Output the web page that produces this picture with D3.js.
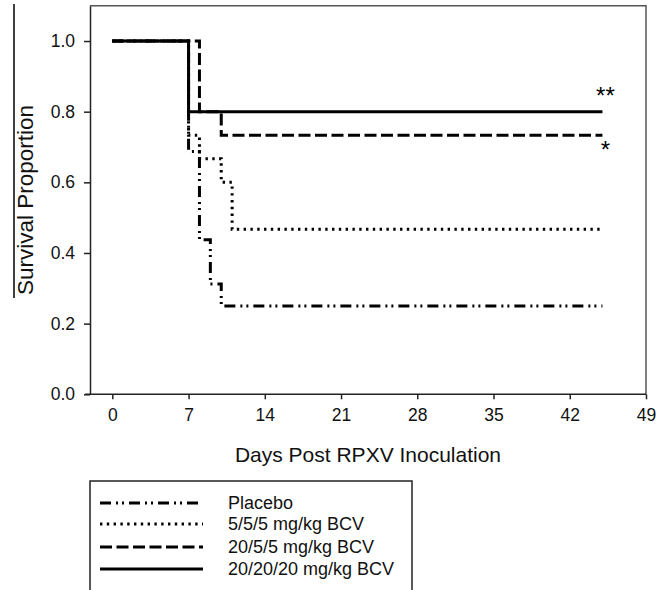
<!DOCTYPE html>
<html>
<head>
<meta charset="utf-8">
<script src="https://cdn.jsdelivr.net/npm/d3@7"></script>
<style>
  body { margin: 0; background: #fff; }
  svg { display: block; font-family: "Liberation Sans", Arial, sans-serif; }
</style>
</head>
<body>
<svg id="chart" width="668" height="590"></svg>
<script>
// survival data, one pair of arrays per group (day where the step starts, proportion)
const groupNames = ["Placebo", "5/5/5 mg/kg BCV", "20/5/5 mg/kg BCV", "20/20/20 mg/kg BCV"];
const placeboDays = [0, 7, 8, 9, 10, 45];
const placeboSurv = [1.0, 0.6875, 0.4375, 0.3125, 0.25, 0.25];
const low5Days = [0, 7, 8, 10, 11, 45];
const low5Surv = [1.0, 0.733, 0.667, 0.6, 0.467, 0.467];
const mid20Days = [0, 8, 10, 45];
const mid20Surv = [1.0, 0.8, 0.733, 0.733];
const high20Days = [0, 7, 45];
const high20Surv = [1.0, 0.8, 0.8];
const xTicks = [0, 7, 14, 21, 28, 35, 42, 49];
const yTicks = [0, 0.2, 0.4, 0.6, 0.8, 1.0];

const svg = d3.select("#chart");

// plot area
const plotL = 90, plotR = 646, plotT = 5.7, plotB = 394.3;

const x = d3.scaleLinear().domain([-2.05, 49]).range([plotL, plotR]);
const y = d3.scaleLinear().domain([0, 1.1]).range([plotB, plotT]);

const dashes = ["11,5,2,4,2,5", "2.4,4.4", "12,4.5", null];
const series = [
  [placeboDays, placeboSurv],
  [low5Days, low5Surv],
  [mid20Days, mid20Surv],
  [high20Days, high20Surv]
].map((s, i) => ({
  name: groupNames[i],
  dash: dashes[i],
  values: s[0].map((d, j) => ({ day: d, surv: s[1][j] }))
}));

// stray rule on the far left of the original figure
svg.append("line")
  .attr("x1", 14).attr("x2", 14)
  .attr("y1", 4).attr("y2", 298)
  .attr("stroke", "#000").attr("stroke-width", 1.5);

// frame top and right
svg.append("path")
  .attr("d", `M${plotL},${plotT}H${plotR}V${plotB}`)
  .attr("fill", "none")
  .attr("stroke", "#555")
  .attr("stroke-width", 1.5);

// axes
const xAxis = svg.append("g")
  .attr("transform", `translate(0,${plotB})`)
  .call(d3.axisBottom(x).tickValues(xTicks).tickSize(5).tickSizeOuter(0).tickPadding(9));

const yAxis = svg.append("g")
  .attr("transform", `translate(${plotL},0)`)
  .call(d3.axisLeft(y).tickValues(yTicks).tickFormat(d3.format(".1f")).tickSize(6).tickSizeOuter(0).tickPadding(9));

[xAxis, yAxis].forEach(g => {
  g.selectAll("path, line").attr("stroke", "#222").attr("stroke-width", 1.5);
  g.selectAll("text").attr("font-size", 17.5).attr("fill", "#111")
    .attr("font-family", "'Liberation Sans', Arial, sans-serif");
});
// extend bottom axis a little to the left like the original
xAxis.select(".domain").attr("d", `M${plotL - 5},0H${plotR}`);

// axis titles
svg.append("text")
  .attr("x", 368).attr("y", 462)
  .attr("text-anchor", "middle")
  .attr("font-size", 21)
  .attr("fill", "#111")
  .text("Days Post RPXV Inoculation");

svg.append("text")
  .attr("transform", "translate(33,200) rotate(-90)")
  .attr("text-anchor", "middle")
  .attr("font-size", 22.5)
  .attr("fill", "#111")
  .text("Survival Proportion");

// survival curves
const line = d3.line()
  .curve(d3.curveStepAfter)
  .x(d => x(d.day))
  .y(d => y(d.surv));

svg.append("g")
  .selectAll("path")
  .data(series)
  .join("path")
    .attr("d", d => line(d.values))
    .attr("fill", "none")
    .attr("stroke", "#000")
    .attr("stroke-width", 3)
    .attr("stroke-dasharray", d => d.dash);

// significance marks
svg.append("text")
  .attr("x", x(45) + 3).attr("y", y(0.8) - 8)
  .attr("text-anchor", "middle")
  .attr("font-size", 24)
  .text("**");

svg.append("text")
  .attr("x", x(45) + 3).attr("y", y(0.733) + 23)
  .attr("text-anchor", "middle")
  .attr("font-size", 24)
  .text("*");

// legend
const legend = svg.append("g");
legend.append("rect")
  .attr("x", 90).attr("y", 481)
  .attr("width", 322).attr("height", 140)
  .attr("fill", "none")
  .attr("stroke", "#222")
  .attr("stroke-width", 1.5);

const rowY = [503, 524, 547, 569];
const item = legend.selectAll(".item")
  .data(series)
  .join("g")
    .attr("class", "item")
    .attr("transform", (d, i) => `translate(0,${rowY[i]})`);

item.append("line")
  .attr("x1", 100).attr("x2", 203)
  .attr("stroke", "#000")
  .attr("stroke-width", 3)
  .attr("stroke-dasharray", d => d.dash);

item.append("text")
  .attr("x", 228)
  .attr("dy", "0.35em")
  .attr("font-size", 18)
  .attr("fill", "#111")
  .text(d => d.name);
</script>
</body>
</html>
